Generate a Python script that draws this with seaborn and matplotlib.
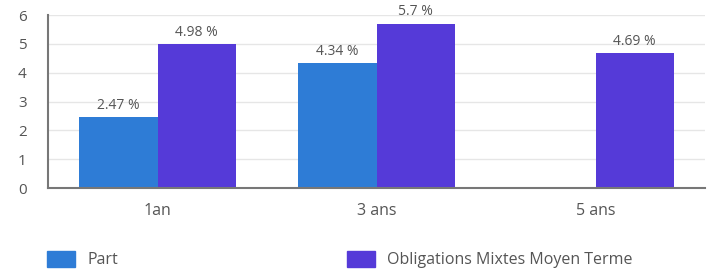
import pandas as pd
import matplotlib.pyplot as plt
import seaborn as sns

# data
periods = ["1an", "3 ans", "5 ans"]
part = [2.47, 4.34, None]
obligations = [4.98, 5.7, 4.69]
series_names = ["Part", "Obligations Mixtes Moyen Terme"]
colors = ["#2e7cd6", "#553ad8"]

df = pd.DataFrame({
    "periode": periods * 2,
    "serie": [series_names[0]] * 3 + [series_names[1]] * 3,
    "valeur": part + obligations,
})

sns.set_style("white")
plt.rcParams['font.family'] = ['Open Sans', 'DejaVu Sans']
text_col = "#555555"

fig = plt.figure(figsize=(7.09, 2.71), dpi=100)
ax = fig.add_axes([0.0677, 0.306, 0.9267, 0.6386])

sns.barplot(data=df, x="periode", y="valeur", hue="serie", palette=colors,
            width=0.717, saturation=1, linewidth=0, ax=ax, legend=False)

# labels on bars
for cont in ax.containers:
    labels = ["" if pd.isna(v) else f"{v:g} %" for v in cont.datavalues]
    ax.bar_label(cont, labels=labels, padding=3, fontsize=10, color=text_col)

ax.set_ylim(0, 6)
ax.set_xlim(-0.5, 2.5)
ax.set_yticks(range(0, 7))
ax.yaxis.grid(True, color="#e6e6e6", linewidth=1)
ax.set_axisbelow(True)

for s in ["top", "right"]:
    ax.spines[s].set_visible(False)
ax.spines["left"].set_color("#777777")
ax.spines["left"].set_linewidth(1.5)
ax.spines["bottom"].set_color("#777777")
ax.spines["bottom"].set_linewidth(1.5)

ax.tick_params(axis="y", length=9.4, width=1.2, color="#777777", pad=6,
               labelsize=11, labelcolor=text_col)
ax.tick_params(axis="x", length=0, pad=11, labelsize=11.5, labelcolor=text_col)
ax.set_xlabel("")
ax.set_ylabel("")

handles = [plt.Rectangle((0, 0), 1, 1, color=c) for c in colors]
fig.legend(handles, series_names, loc="center left", bbox_to_anchor=(0.0457, 0.042),
           ncol=2, frameon=False, fontsize=11.5, labelcolor=text_col,
           handlelength=1.75, handleheight=1.2, handletextpad=0.8,
           columnspacing=14.3, borderpad=0.4)

fig.savefig("out.png", dpi=100)
